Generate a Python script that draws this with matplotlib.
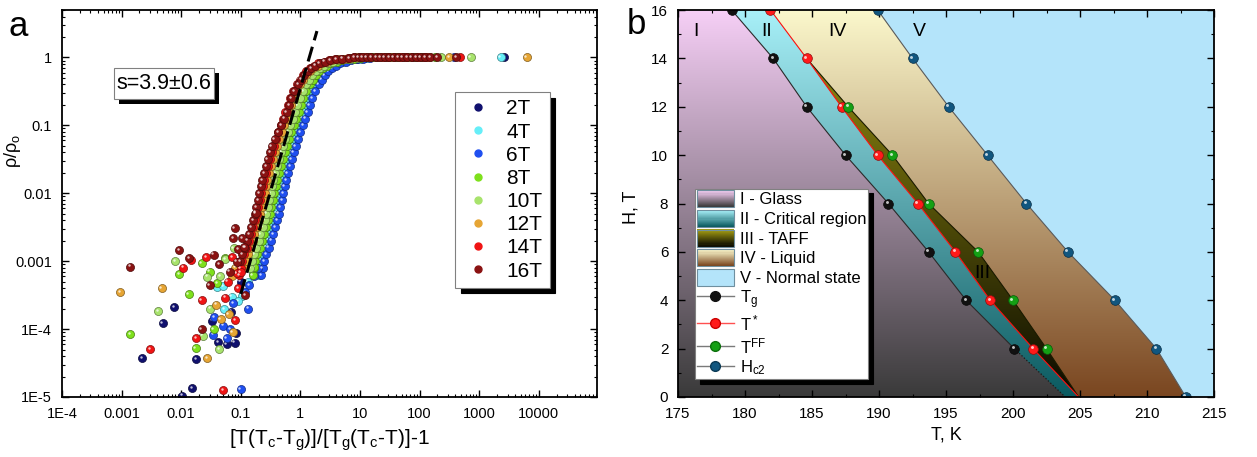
import numpy as np
import matplotlib.pyplot as plt
import matplotlib.ticker as mticker
from matplotlib.patches import Polygon, Rectangle
from matplotlib.lines import Line2D
from matplotlib.legend_handler import HandlerBase
from matplotlib.colors import to_rgb
from matplotlib.transforms import offset_copy

plt.rcParams['font.family'] = ['Liberation Sans', 'DejaVu Sans']
plt.rcParams['mathtext.default'] = 'regular'

# ---------------- panel a: scaling collapse ----------------
fields = ['2T', '4T', '6T', '8T', '10T', '12T', '14T', '16T']
field_colors = ['#10106e', '#66eef8', '#1f4ff0', '#7ee01c', '#a8e36c', '#e6a534', '#f01414', '#8a1212']

# rho/rho0 levels of the rising part (each field list is aligned to the end of this)
rise_y = [6.3e-4, 7.9e-4, 1.0e-3, 1.26e-3, 1.58e-3, 2.0e-3, 2.5e-3, 3.2e-3, 4.0e-3, 5.0e-3,
          6.3e-3, 7.9e-3, 0.010, 0.0126, 0.0158, 0.020, 0.025, 0.032, 0.040, 0.050,
          0.063, 0.079, 0.10, 0.126, 0.158, 0.20, 0.25, 0.32, 0.40, 0.47,
          0.55, 0.63, 0.70, 0.76, 0.82, 0.87, 0.91, 0.94, 0.96, 0.98]

x_2T = [0.19, 0.202, 0.219, 0.24, 0.263, 0.282, 0.309, 0.331, 0.354, 0.371, 0.398, 0.417, 0.446,
        0.467, 0.501, 0.543, 0.581, 0.631, 0.676, 0.741, 0.813, 0.892, 0.977, 1.07, 1.18, 1.29,
        1.45, 1.66, 1.86, 2.1, 2.4, 2.76, 3.24, 3.81, 4.67, 5.7, 7.2, 9.1, 12.0]
x_4T = [0.199, 0.209, 0.222, 0.240, 0.263, 0.288, 0.309, 0.339, 0.364, 0.389, 0.408, 0.437, 0.458,
        0.489, 0.512, 0.550, 0.596, 0.637, 0.692, 0.742, 0.813, 0.892, 0.978, 1.07, 1.17, 1.29,
        1.41, 1.59, 1.82, 2.04, 2.3, 2.63, 3.03, 3.55, 4.18, 5.12, 6.27, 7.9, 10.0, 13.2]
x_6T = [0.222, 0.234, 0.248, 0.269, 0.295, 0.323, 0.346, 0.379, 0.407, 0.435, 0.456, 0.489, 0.512,
        0.548, 0.573, 0.615, 0.667, 0.714, 0.775, 0.831, 0.910, 0.999, 1.10, 1.20, 1.32, 1.44,
        1.58, 1.78, 2.04, 2.29, 2.57, 2.95, 3.39, 3.98, 4.68, 5.73, 7.0, 8.9, 11.2, 14.7]
x_8T = [0.158, 0.166, 0.176, 0.191, 0.209, 0.229, 0.246, 0.269, 0.289, 0.309, 0.324, 0.347, 0.364,
        0.388, 0.407, 0.437, 0.473, 0.506, 0.549, 0.589, 0.646, 0.709, 0.777, 0.852, 0.933, 1.02,
        1.12, 1.26, 1.45, 1.62, 1.83, 2.09, 2.41, 2.82, 3.32, 4.07, 4.98, 6.3, 8.0, 10.5]
x_10T = [0.145, 0.153, 0.166, 0.182, 0.199, 0.214, 0.234, 0.251, 0.269, 0.282, 0.302, 0.316, 0.338,
         0.354, 0.380, 0.412, 0.441, 0.478, 0.513, 0.562, 0.617, 0.676, 0.741, 0.812, 0.892, 0.977,
         1.10, 1.26, 1.41, 1.59, 1.82, 2.1, 2.46, 2.89, 3.54, 4.34, 5.5, 6.9, 9.1]
x_12T = [0.115, 0.122, 0.132, 0.145, 0.158, 0.170, 0.186, 0.200, 0.214, 0.224, 0.240, 0.251, 0.269,
         0.281, 0.302, 0.327, 0.350, 0.380, 0.408, 0.447, 0.490, 0.537, 0.589, 0.645, 0.708, 0.776,
         0.871, 1.0, 1.12, 1.26, 1.45, 1.66, 1.95, 2.3, 2.81, 3.44, 4.36, 5.5, 7.2]
x_14T = [0.095, 0.100, 0.106, 0.115, 0.126, 0.138, 0.148, 0.162, 0.174, 0.186, 0.195, 0.209, 0.219,
         0.234, 0.245, 0.263, 0.285, 0.305, 0.331, 0.355, 0.389, 0.427, 0.468, 0.513, 0.562, 0.617,
         0.676, 0.759, 0.871, 0.977, 1.10, 1.26, 1.45, 1.70, 2.0, 2.45, 3.0, 3.8, 4.8, 6.3]
x_16T = [0.099, 0.107, 0.117, 0.128, 0.138, 0.151, 0.162, 0.173, 0.181, 0.194, 0.204, 0.218, 0.228,
         0.245, 0.265, 0.284, 0.308, 0.330, 0.37, 0.42, 0.47, 0.535, 0.59, 0.648, 0.71, 0.797,
         0.915, 1.03, 1.16, 1.32, 1.52, 1.79, 2.1, 2.57, 3.15, 4.0, 5.0, 6.6]

# points on the rho/rho0 = 1 plateau
plat_2T = [16, 20, 25, 32, 40, 50, 63, 80, 100, 2600]
plat_4T = [16, 20, 25, 32, 40, 50, 63, 80, 2300]
plat_6T = [18, 22, 28, 35, 45, 56, 70, 90, 120, 380]
plat_8T = [13, 16, 20, 25, 32, 40, 50, 63, 80, 100, 130, 180]
plat_10T = [12, 15, 19, 24, 30, 38, 48, 60, 75, 95, 120, 230, 720]
plat_12T = [9, 11, 14, 18, 22, 28, 35, 45, 56, 70, 90, 115, 150, 316, 6300]
plat_14T = [8, 10, 12, 15, 19, 24, 30, 38, 48, 60, 75, 95, 120, 135, 470]
plat_16T = [8, 9.5, 11, 13, 15.5, 18.5, 22, 26, 31, 37, 44, 52, 62, 74, 88, 105, 125, 150, 200, 415]

# scattered low-resistance points
nx_2T = [0.0022, 0.0049, 0.0077, 0.018, 0.0155, 0.0104, 0.042, 0.058, 0.079, 0.083, 0.033, 0.069, 0.1]
ny_2T = [3.7e-5, 1.23e-4, 2.1e-4, 3.6e-5, 1.35e-5, 1.05e-5, 6.5e-5, 6e-5, 6.3e-5, 8.9e-5, 1.33e-4, 1.8e-4, 5e-4]
nx_4T = [0.040, 0.052, 0.106, 0.051, 0.13, 0.16, 0.07, 0.09]
ny_4T = [4.1e-4, 1.96e-4, 3.1e-4, 4.3e-4, 5e-4, 6.5e-4, 3e-4, 2.6e-4]
nx_6T = [0.1, 0.132, 0.034, 0.051, 0.036, 0.058, 0.067, 0.14, 0.17, 0.195, 0.075, 0.12]
ny_6T = [1.3e-5, 2e-4, 8.3e-5, 1.12e-4, 1.5e-4, 7.3e-5, 1e-4, 4.4e-4, 6e-4, 8e-4, 2.4e-4, 3.5e-4]
nx_8T = [0.0014, 0.0093, 0.0134, 0.022, 0.0176, 0.055, 0.035, 0.166, 0.03, 0.04]
ny_8T = [8.5e-5, 6.4e-4, 3.3e-4, 9.3e-4, 5.2e-5, 1.1e-3, 1e-4, 8.1e-4, 7e-4, 4.8e-4]
nx_10T = [0.0041, 0.0079, 0.027, 0.031, 0.043, 0.023, 0.055, 0.076, 0.045]
ny_10T = [1.86e-4, 1e-3, 5.9e-4, 2e-4, 5.1e-5, 8e-5, 1.08e-3, 1.55e-3, 6e-4]
nx_12T = [9.5e-4, 0.0047, 0.027, 0.039, 0.046, 0.073, 0.063, 0.08, 0.095, 0.07]
ny_12T = [3.5e-4, 4e-4, 3.7e-5, 2.3e-4, 1.4e-4, 9.1e-5, 1.66e-4, 8e-4, 9e-4, 6e-4]
nx_14T = [0.003, 0.0107, 0.026, 0.0145, 0.022, 0.018, 0.051, 0.054, 0.071, 0.080, 0.085, 0.1, 0.06, 0.09]
ny_14T = [5.1e-5, 8e-4, 1.15e-3, 1.03e-3, 2.7e-4, 7.3e-5, 1.25e-5, 2.9e-4, 1.15e-3, 1.35e-4, 6.6e-4, 6.9e-4, 5e-4, 4e-4]
nx_16T = [0.0014, 0.0093, 0.0135, 0.035, 0.043, 0.030, 0.022, 0.079, 0.075, 0.085, 0.106, 0.12, 0.178, 0.09, 0.065, 0.115]
ny_16T = [8.3e-4, 1.45e-3, 1.1e-3, 1.25e-3, 9.1e-4, 4.4e-4, 1e-4, 3.1e-3, 2.2e-3, 9.8e-4, 2.2e-3, 3.2e-4, 5.2e-3, 1.5e-3, 7e-4, 1.6e-3]

fit_x = [0.1, 1.9]
fit_y = [3.3e-4, 2.45]

xticks_a = [1e-4, 1e-3, 1e-2, 1e-1, 1, 10, 100, 1000, 10000]
yticks_a = [1e-5, 1e-4, 1e-3, 1e-2, 1e-1, 1]

rise_xs = [x_2T, x_4T, x_6T, x_8T, x_10T, x_12T, x_14T, x_16T]
plats = [plat_2T, plat_4T, plat_6T, plat_8T, plat_10T, plat_12T, plat_14T, plat_16T]
noise_x = [nx_2T, nx_4T, nx_6T, nx_8T, nx_10T, nx_12T, nx_14T, nx_16T]
noise_y = [ny_2T, ny_4T, ny_6T, ny_8T, ny_10T, ny_12T, ny_14T, ny_16T]

# ---------------- panel b: H-T phase diagram ----------------
Tg_H = [16, 14, 12, 10, 8, 6, 4, 2]
Tg_T = [179.0, 182.1, 184.6, 187.5, 190.7, 193.7, 196.5, 200.1]
Tg_end = 203.9          # glass line extrapolated to H = 0
Ts_H = [16, 14, 12, 10, 8, 6, 4, 2]
Ts_T = [181.9, 184.6, 187.2, 189.9, 192.9, 195.7, 198.3, 201.5]
Tc0 = 204.9             # T* and T_FF meet at H = 0
Tff_H = [12, 10, 8, 6, 4, 2]
Tff_T = [187.7, 191.0, 193.7, 197.4, 200.0, 202.5]
Hc2_H = [16, 14, 12, 10, 8, 6, 4, 2, 0]
Hc2_T = [189.9, 192.5, 195.2, 198.1, 201.0, 204.1, 207.6, 210.7, 212.9]

region_names = ['I - Glass', 'II - Critical region', 'III - TAFF', 'IV - Liquid', 'V - Normal state']
region_top = ['#f6cff6', '#a8f0f8', '#a09812', '#fbf8cc', '#b4e4fa']
region_bottom = ['#3a3a3a', '#0a5a60', '#0a0a00', '#7a4620', '#b4e4fa']


def balls(ax, x, y, color, ms, z):
    edge = tuple(0.55 * c for c in to_rgb(color))
    ax.plot(x, y, ls='none', marker='o', ms=ms, mfc=color, mec=edge, mew=0.5, zorder=z)
    hl = offset_copy(ax.transData, fig=ax.figure, x=-ms * 0.16, y=ms * 0.16, units='points')
    ax.plot(x, y, ls='none', marker='o', ms=ms * 0.3, mfc='white', mec='none',
            alpha=0.75, transform=hl, zorder=z + 0.01)


def grad_fill(ax, verts, top, bottom, z):
    poly = Polygon(verts, closed=True, facecolor='none', edgecolor='none')
    ax.add_patch(poly)
    t = np.linspace(0, 1, 256)[:, None]
    img = (1 - t) * np.array(to_rgb(top)) + t * np.array(to_rgb(bottom))
    im = ax.imshow(img[:, None, :], extent=(175, 215, 0, 16), origin='upper',
                   aspect='auto', interpolation='bilinear', zorder=z)
    im.set_clip_path(poly)


class GradHandler(HandlerBase):
    def __init__(self, top, bottom):
        super().__init__()
        self.top = np.array(to_rgb(top))
        self.bottom = np.array(to_rgb(bottom))

    def create_artists(self, legend, orig_handle, xdescent, ydescent, width, height, fontsize, trans):
        arts = []
        n = 16
        for i in range(n):
            f = i / (n - 1)
            c = (1 - f) * self.bottom + f * self.top
            arts.append(Rectangle((-xdescent, -ydescent + i * height / n), width, height / n * 1.3,
                                  facecolor=c, edgecolor='none', transform=trans))
        arts.append(Rectangle((-xdescent, -ydescent), width, height, facecolor='none',
                              edgecolor='#6f8f9f', lw=0.8, transform=trans))
        return arts


fig = plt.figure(figsize=(12.57, 4.57), dpi=100)
ax1 = fig.add_axes([0.0493, 0.1313, 0.4256, 0.8468])
ax2 = fig.add_axes([0.5394, 0.1313, 0.4264, 0.8468])

# ---- panel a ----
for i in range(len(fields)):
    z = 2 + i * 0.1
    xs = rise_xs[i]
    balls(ax1, xs, rise_y[-len(xs):], field_colors[i], 5.8, z)
    balls(ax1, plats[i], [1.0] * len(plats[i]), field_colors[i], 5.8, z)
    balls(ax1, noise_x[i], noise_y[i], field_colors[i], 5.8, z)

ax1.plot(fit_x, fit_y, color='black', lw=2.2, dashes=(5, 2.2), zorder=5)

ax1.set_xscale('log')
ax1.set_yscale('log')
ax1.set_xlim(1e-4, 9.5e4)
ax1.set_ylim(1e-5, 5)


def log_label(v, pos):
    if v < 1e-3:
        return '1E%d' % int(round(np.log10(v)))
    return '%g' % v


ax1.xaxis.set_major_locator(mticker.FixedLocator(xticks_a))
ax1.yaxis.set_major_locator(mticker.FixedLocator(yticks_a))
ax1.xaxis.set_minor_locator(mticker.LogLocator(base=10, subs=np.arange(2, 10), numticks=20))
ax1.yaxis.set_minor_locator(mticker.LogLocator(base=10, subs=np.arange(2, 10), numticks=20))
ax1.xaxis.set_major_formatter(mticker.FuncFormatter(log_label))
ax1.yaxis.set_major_formatter(mticker.FuncFormatter(log_label))
ax1.xaxis.set_minor_formatter(mticker.NullFormatter())
ax1.yaxis.set_minor_formatter(mticker.NullFormatter())
ax1.tick_params(which='both', direction='in', top=True, right=True, labelsize=10.5, pad=7)
ax1.tick_params(which='major', length=5, width=1)
ax1.tick_params(which='minor', length=2.5, width=0.8)
for s in ax1.spines.values():
    s.set_linewidth(1.3)
ax1.set_xlabel('[T(T$_c$-T$_g$)]/[T$_g$(T$_c$-T)]-1', fontsize=15, labelpad=5)
ax1.set_ylabel('ρ/ρ$_o$', fontsize=13)
ax1.yaxis.set_label_coords(-0.073, 0.636)

handles = [Line2D([], [], ls='none', marker='o', ms=5, mfc=c, mec=c) for c in field_colors]
leg1 = ax1.legend(handles, fields, loc='upper left', bbox_to_anchor=(0.735, 0.788),
                  fontsize=15, frameon=True, fancybox=False, framealpha=1, edgecolor='#808080',
                  handlelength=1.5, handletextpad=0.6, labelspacing=0.2, borderpad=0.35,
                  borderaxespad=0, shadow={'color': 'black', 'alpha': 1, 'ox': 4, 'oy': -4})
leg1.get_frame().set_linewidth(0.8)

ax1.add_patch(Rectangle((0.107, 0.757), 0.187, 0.08, transform=ax1.transAxes,
                        facecolor='black', edgecolor='none', zorder=6))
ax1.add_patch(Rectangle((0.097, 0.770), 0.187, 0.08, transform=ax1.transAxes,
                        facecolor='white', edgecolor='#808080', lw=0.8, zorder=7))
ax1.text(0.1905, 0.810, 's=3.9±0.6', transform=ax1.transAxes, fontsize=15.5,
         ha='center', va='center', zorder=8)

fig.text(0.0143, 0.941, 'a', fontsize=25, ha='center', va='center')

# ---- panel b ----
ax2.set_facecolor(region_top[4])
left_edge = [(175, 0), (175, 16)]
grad_fill(ax2, left_edge + list(zip(Hc2_T, Hc2_H)), region_top[3], region_bottom[3], 1.0)
grad_fill(ax2, left_edge + list(zip(Ts_T[:2], Ts_H[:2])) + list(zip(Tff_T, Tff_H)) + [(Tc0, 0)],
          region_top[2], region_bottom[2], 1.1)
grad_fill(ax2, left_edge + list(zip(Ts_T, Ts_H)) + [(Tc0, 0)], region_top[1], region_bottom[1], 1.2)
grad_fill(ax2, left_edge + list(zip(Tg_T, Tg_H)) + [(Tg_end, 0)], region_top[0], region_bottom[0], 1.3)

ax2.plot(Hc2_T, Hc2_H, color='#5a5a5a', lw=0.8, zorder=3)
ax2.plot([Ts_T[1]] + Tff_T + [Tc0], [Ts_H[1]] + Tff_H + [0], color='#1a1a00', lw=0.8, zorder=3)
ax2.plot(Ts_T + [Tc0], Ts_H + [0], color='#ff1010', lw=0.8, zorder=3)
ax2.plot(Tg_T, Tg_H, color='#2a2a2a', lw=0.8, zorder=3)
ax2.plot([Tg_T[-1], Tg_end], [Tg_H[-1], 0], color='#1a1a1a', lw=0.9, ls=':', zorder=3)

balls(ax2, Tg_T, Tg_H, '#111111', 7, 4)
balls(ax2, Ts_T, Ts_H, '#ff1a1a', 7, 4)
balls(ax2, Tff_T, Tff_H, '#14a014', 7, 4)
balls(ax2, Hc2_T, Hc2_H, '#11567f', 7, 4)

for lbl, tx, hy in [('I', 176.3, 15.1), ('II', 181.6, 15.1), ('IV', 186.9, 15.1),
                    ('V', 193.0, 15.1), ('III', 197.7, 5.1)]:
    ax2.text(tx, hy, lbl, fontsize=14, ha='center', va='center', zorder=5)

ax2.set_xlim(175, 215)
ax2.set_ylim(0, 16)
ax2.xaxis.set_major_locator(mticker.MultipleLocator(5))
ax2.xaxis.set_minor_locator(mticker.MultipleLocator(2.5))
ax2.yaxis.set_major_locator(mticker.MultipleLocator(2))
ax2.yaxis.set_minor_locator(mticker.MultipleLocator(1))
ax2.tick_params(which='both', direction='in', top=True, right=True, labelsize=11, pad=7)
ax2.tick_params(which='major', length=5, width=1)
ax2.tick_params(which='minor', length=2.5, width=0.8)
for s in ax2.spines.values():
    s.set_linewidth(1.3)
    s.set_zorder(6)
ax2.set_xlabel('T, K', fontsize=13, labelpad=4)
ax2.set_ylabel('H, T', fontsize=13)
ax2.yaxis.set_label_coords(-0.071, 0.49)

reg_handles = [Rectangle((0, 0), 1, 1) for _ in region_names]
hmap = {h: GradHandler(region_top[k], region_bottom[k]) for k, h in enumerate(reg_handles)}
line_handles = [
    Line2D([], [], color='#7a7a7a', lw=1, marker='o', ms=7, mfc='#111111', mec='#111111'),
    Line2D([], [], color='#ff5050', lw=1, marker='o', ms=7, mfc='#ff1a1a', mec='#cc0000'),
    Line2D([], [], color='#7a7a7a', lw=1, marker='o', ms=7, mfc='#14a014', mec='#0c700c'),
    Line2D([], [], color='#7a7a7a', lw=1, marker='o', ms=7, mfc='#11567f', mec='#0b3a55'),
]
line_labels = ['T$_g$', 'T$^*$', 'T$^{FF}$', 'H$_{c2}$']
leg2 = ax2.legend(reg_handles + line_handles, region_names + line_labels, handler_map=hmap,
                  loc='lower left', bbox_to_anchor=(0.032, 0.0465), fontsize=12,
                  frameon=True, fancybox=False, framealpha=1, edgecolor='#808080',
                  handlelength=2.2, handleheight=1.2, handletextpad=0.4, labelspacing=0.15,
                  borderpad=0.1, borderaxespad=0,
                  shadow={'color': 'black', 'alpha': 1, 'ox': 3.5, 'oy': -3.5})
leg2.set_zorder(10)
leg2.get_frame().set_linewidth(0.8)

fig.text(0.506, 0.947, 'b', fontsize=25, ha='center', va='center')

fig.savefig('out.png', dpi=100)
